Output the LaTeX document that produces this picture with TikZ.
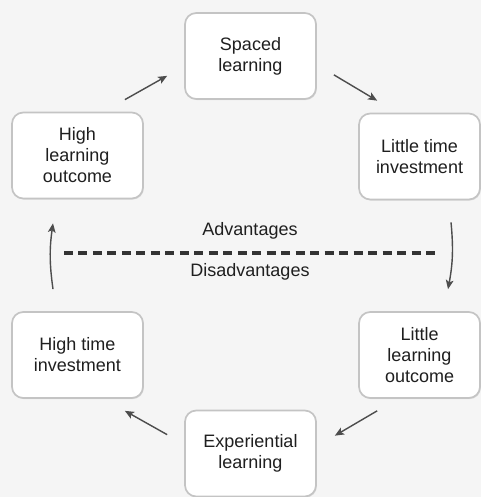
\documentclass[tikz,border=0pt]{standalone}
\usepackage{fontspec}
\setmainfont{Liberation Sans}
\usepackage{tikz}
\usetikzlibrary{arrows.meta, shadows}
\definecolor{boxline}{HTML}{C4C4C4}
\definecolor{arrowgrey}{HTML}{4D4D4D}
\definecolor{bggrey}{HTML}{F5F5F5}
\definecolor{textgrey}{HTML}{1F1F1F}

\begin{document}
\begin{tikzpicture}[
    font=\fontsize{12.8pt}{14.9pt}\selectfont,
    stage/.style={draw=boxline, line width=1.2pt, fill=white, rounded corners=8pt, minimum width=3.275cm, minimum height=2.15cm, align=center, text=textgrey, drop shadow={shadow xshift=0.6pt, shadow yshift=-0.8pt, opacity=0.2}},
    narrow/.style={stage, minimum width=3.025cm},
    cyc/.style={-{Stealth[length=6.5pt, width=5.5pt, inset=1.5pt]}, draw=arrowgrey, line width=1pt},
    divider/.style={draw=black!80, line width=2.5pt, dash pattern=on 6.4pt off 3.9pt},
    side/.style={text=textgrey},
]

% --- background ---
\fill[bggrey] (0, 0) rectangle (12.025, 12.425);
\useasboundingbox (0, 0) rectangle (12.025, 12.425);

% --- Advantages (top half) ---
\node[stage] (SL) at (6.2625, 11.025) {Spaced\\learning};
\node[narrow] (LTI) at (10.4875, 8.5125) {Little time\\investment};
\node[stage] (HLO) at (1.9375, 8.5375) {High\\learning\\outcome};

% --- Disadvantages (bottom half) ---
\node[narrow] (LLO) at (10.4875, 3.55) {Little\\learning\\outcome};
\node[stage] (EL) at (6.2625, 1.0875) {Experiential\\learning};
\node[stage] (HTI) at (1.9375, 3.55) {High time\\investment};

% Cycle arrows
\draw[cyc] ([xshift=0.425cm, yshift=0.625cm]SL.south east) -- ([xshift=0.475cm, yshift=0.3cm]LTI.north west);
\draw[cyc] ([xshift=0.7875cm, yshift=-0.55cm]LTI.south) to[bend left=8] ([xshift=0.7125cm, yshift=0.55cm]LLO.north);
\draw[cyc] ([xshift=0.475cm, yshift=-0.3cm]LLO.south west) -- ([xshift=0.45cm, yshift=-0.65cm]EL.north east);
\draw[cyc] ([xshift=-0.425cm, yshift=-0.625cm]EL.north west) -- ([xshift=-0.475cm, yshift=-0.3cm]HTI.south east);
\draw[cyc] ([xshift=-0.6125cm, yshift=0.55cm]HTI.north) to[bend left=8] ([xshift=-0.6125cm, yshift=-0.6cm]HLO.south);
\draw[cyc] ([xshift=-0.475cm, yshift=0.3cm]HLO.north east) -- ([xshift=-0.425cm, yshift=0.6cm]SL.south west);

% --- Divider ---
\coordinate (DL) at (1.6, 6.1);
\coordinate (DR) at (10.9, 6.1);
\draw[divider] (DL) -- (DR)
    node[side, midway, above=5pt] (ADV) {Advantages}
    node[side, midway, below=3pt] (DIS) {Disadvantages};

\end{tikzpicture}
\end{document}
